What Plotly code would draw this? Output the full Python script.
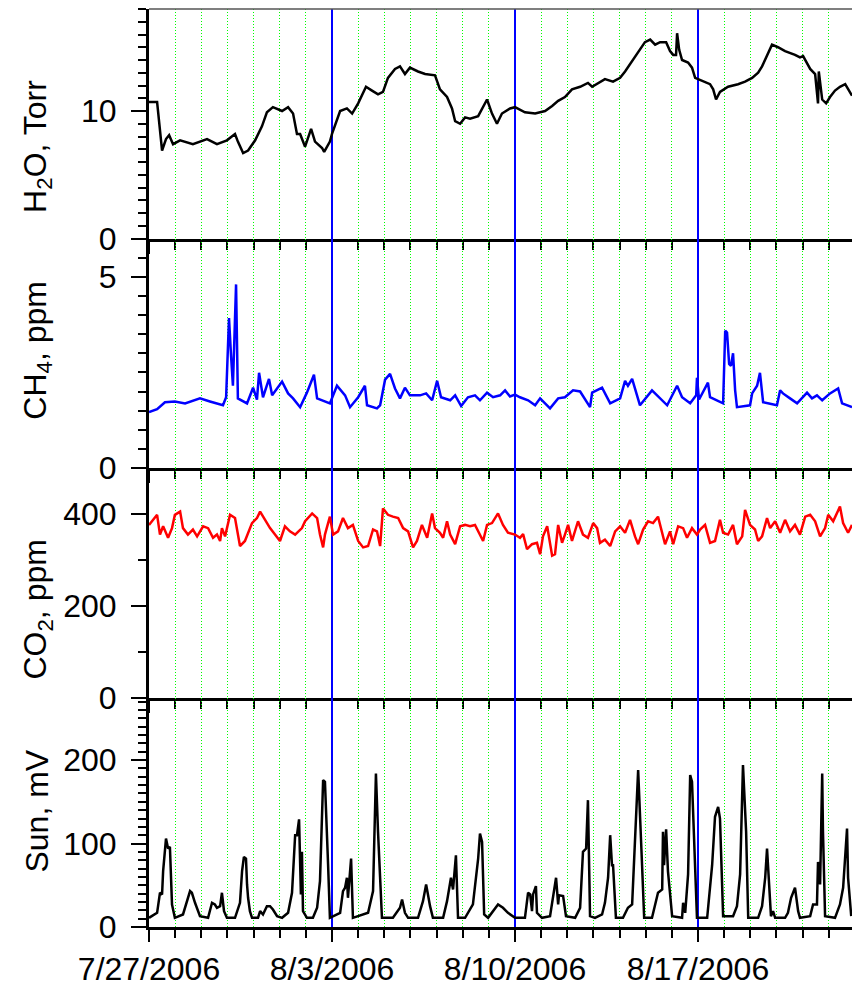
import pandas as pd
import plotly.graph_objects as go
from plotly.subplots import make_subplots

START = pd.Timestamp("2006-07-27")

# ---- data (time in days since 7/27/2006 00:00) ----
h2o_days = [0, 0.31, 0.50, 0.65, 0.77, 0.92, 1.19, 1.68, 2.22, 2.60,
            2.98, 3.29, 3.40, 3.60, 3.79, 4.06, 4.32, 4.51, 4.74, 5.09,
            5.32, 5.51, 5.66, 5.78, 5.97, 6.20, 6.35, 6.62, 6.70, 6.92,
            7.00, 7.31, 7.57, 7.77, 8.00, 8.15, 8.30, 8.53, 8.76, 8.95,
            9.14, 9.41, 9.60, 9.79, 9.98, 10.29, 10.56, 10.94, 11.13, 11.40,
            11.59, 11.71, 11.90, 12.09, 12.28, 12.59, 12.78, 12.93, 13.12, 13.31,
            13.50, 13.81, 14.00, 14.38, 14.77, 15.15, 15.42, 15.65, 15.91, 16.18,
            16.49, 16.79, 16.95, 17.25, 17.44, 17.75, 18.02, 18.21, 18.40, 18.78,
            18.97, 19.17, 19.36, 19.55, 19.78, 19.93, 20.05, 20.16, 20.20, 20.28,
            20.39, 20.62, 20.77, 20.89, 21.00, 21.27, 21.46, 21.58, 21.69, 21.84,
            22.15, 22.53, 22.80, 23.07, 23.30, 23.45, 23.64, 23.83, 24.06, 24.33,
            24.71, 24.90, 25.02, 25.29, 25.48, 25.59, 25.62, 25.75, 25.90, 26.05,
            26.24, 26.43, 26.63, 26.74, 26.89]
h2o_vals = [10.7, 10.7, 6.9, 7.8, 8.1, 7.4, 7.7, 7.4, 7.8, 7.4,
            7.7, 8.2, 7.6, 6.7, 6.9, 7.7, 8.8, 9.9, 10.3, 10.0,
            10.3, 9.8, 8.2, 8.2, 7.2, 8.6, 7.6, 7.1, 6.8, 7.6,
            8.2, 10.0, 10.2, 9.8, 10.6, 11.3, 11.9, 11.6, 11.3, 11.5,
            12.6, 13.3, 13.5, 12.9, 13.4, 13.1, 12.9, 12.8, 11.7, 11.1,
            10.2, 9.2, 9.0, 9.5, 9.4, 9.6, 10.3, 10.9, 9.8, 9.0,
            9.8, 10.2, 10.3, 9.9, 9.8, 10.0, 10.4, 10.8, 11.1, 11.7,
            11.9, 12.2, 11.9, 12.3, 12.5, 12.3, 12.6, 13.1, 13.7, 14.8,
            15.4, 15.6, 15.2, 15.4, 15.4, 14.7, 14.4, 14.4, 16.1, 14.8,
            14.0, 13.8, 13.4, 12.6, 12.5, 12.3, 12.1, 11.7, 10.9, 11.5,
            11.9, 12.1, 12.3, 12.6, 13.0, 13.5, 14.4, 15.2, 15.0, 14.7,
            14.4, 14.2, 14.3, 13.3, 12.9, 10.6, 13.1, 10.9, 10.6, 11.1,
            11.6, 11.9, 12.1, 11.7, 11.2]

ch4_days = [0, 0.31, 0.61, 0.99, 1.38, 1.95, 2.33, 2.83, 2.95, 3.06,
            3.14, 3.21, 3.33, 3.40, 3.75, 3.98, 4.13, 4.21, 4.36, 4.59,
            4.71, 4.86, 5.09, 5.32, 5.51, 5.78, 6.04, 6.31, 6.43, 6.92,
            7.19, 7.50, 7.69, 8.00, 8.26, 8.34, 8.72, 8.84, 9.03, 9.22,
            9.41, 9.60, 9.79, 9.98, 10.37, 10.60, 10.83, 11.02, 11.17, 11.52,
            11.71, 11.94, 12.20, 12.47, 12.66, 12.93, 13.16, 13.43, 13.62, 13.81,
            14.00, 14.19, 14.50, 14.77, 14.96, 15.34, 15.65, 15.91, 16.22, 16.49,
            16.87, 16.95, 17.33, 17.64, 18.02, 18.21, 18.32, 18.48, 18.78, 19.24,
            19.82, 20.20, 20.39, 20.70, 20.93, 20.96, 21.04, 21.38, 21.46, 21.96,
            22.04, 22.11, 22.19, 22.26, 22.34, 22.42, 22.49, 22.99, 23.07, 23.26,
            23.37, 23.49, 24.02, 24.14, 24.25, 24.52, 24.79, 25.17, 25.36, 25.55,
            25.75, 26.05, 26.36, 26.51, 26.89]
ch4_vals = [1.46, 1.54, 1.72, 1.74, 1.69, 1.82, 1.74, 1.64, 1.85, 3.92,
            2.92, 2.15, 4.80, 1.82, 1.69, 2.10, 1.79, 2.49, 1.85, 2.33,
            1.90, 2.03, 2.26, 1.95, 1.82, 1.59, 1.97, 2.44, 1.82, 1.69,
            2.15, 1.90, 1.59, 1.85, 2.15, 1.64, 1.56, 1.64, 2.31, 2.46,
            2.08, 1.82, 2.10, 1.90, 1.90, 1.95, 1.77, 2.28, 1.85, 1.77,
            1.90, 1.62, 1.85, 1.90, 1.77, 1.97, 1.85, 1.90, 2.03, 1.87,
            1.92, 1.85, 1.77, 1.64, 1.82, 1.56, 1.82, 1.85, 2.03, 2.00,
            1.59, 1.97, 2.10, 1.69, 1.82, 2.28, 2.15, 2.33, 1.64, 2.03,
            1.64, 2.15, 1.85, 1.69, 1.90, 2.36, 1.79, 2.23, 1.85, 1.69,
            3.59, 3.54, 2.72, 2.67, 3.00, 2.03, 1.59, 1.64, 1.95, 2.15,
            2.49, 1.72, 1.64, 2.03, 1.95, 1.82, 1.69, 1.97, 1.82, 1.90,
            1.77, 1.95, 2.08, 1.69, 1.59]

co2_days = [0, 0.31, 0.42, 0.54, 0.73, 0.88, 0.99, 1.19, 1.30, 1.49,
            1.68, 1.84, 2.07, 2.26, 2.45, 2.60, 2.72, 2.79, 2.91, 3.10,
            3.29, 3.48, 3.67, 3.94, 4.13, 4.25, 4.44, 4.63, 4.82, 5.01,
            5.20, 5.39, 5.59, 5.85, 5.97, 6.24, 6.43, 6.54, 6.66, 6.73,
            6.92, 7.04, 7.23, 7.42, 7.61, 7.80, 8.00, 8.19, 8.38, 8.57,
            8.72, 8.84, 8.95, 9.14, 9.33, 9.53, 9.72, 9.91, 10.10, 10.25,
            10.44, 10.64, 10.83, 10.94, 11.13, 11.25, 11.40, 11.52, 11.71, 11.90,
            12.09, 12.28, 12.47, 12.66, 12.78, 12.93, 13.12, 13.35, 13.54, 13.73,
            14.00, 14.19, 14.31, 14.46, 14.65, 14.84, 14.96, 15.07, 15.23, 15.42,
            15.53, 15.65, 15.80, 15.91, 16.03, 16.18, 16.41, 16.60, 16.79, 16.99,
            17.14, 17.25, 17.44, 17.64, 17.83, 18.02, 18.21, 18.40, 18.59, 18.71,
            18.90, 19.09, 19.28, 19.47, 19.63, 19.74, 19.93, 20.05, 20.24, 20.43,
            20.58, 20.77, 20.96, 21.08, 21.27, 21.46, 21.65, 21.84, 21.96, 22.15,
            22.34, 22.49, 22.69, 22.80, 22.99, 23.18, 23.30, 23.45, 23.64, 23.76,
            23.95, 24.14, 24.33, 24.52, 24.71, 24.90, 25.10, 25.29, 25.48, 25.67,
            25.86, 25.98, 26.17, 26.43, 26.55, 26.74, 26.89]
co2_vals = [376, 398, 355, 373, 348, 369, 398, 405, 369, 355,
            366, 351, 373, 369, 348, 355, 341, 369, 351, 398,
            391, 330, 341, 380, 391, 405, 387, 369, 355, 341,
            373, 362, 355, 369, 384, 401, 391, 355, 327, 355,
            394, 355, 362, 391, 369, 376, 341, 327, 330, 366,
            362, 330, 412, 398, 394, 391, 369, 362, 327, 341,
            376, 348, 401, 369, 359, 348, 384, 355, 334, 373,
            376, 373, 376, 355, 341, 376, 380, 401, 376, 359,
            355, 348, 356, 323, 334, 337, 312, 351, 373, 309,
            312, 376, 337, 355, 376, 341, 384, 355, 348, 380,
            369, 337, 344, 330, 362, 373, 359, 387, 351, 334,
            366, 384, 380, 394, 355, 334, 362, 334, 373, 369,
            348, 369, 355, 366, 376, 337, 341, 387, 359, 355,
            376, 334, 351, 409, 376, 366, 341, 351, 391, 369,
            384, 359, 387, 362, 376, 355, 394, 398, 384, 351,
            369, 398, 384, 416, 380, 359, 376]

sun_days = [0, 0.31, 0.42, 0.50, 0.54, 0.65, 0.73, 0.80, 0.88, 0.99,
            1.30, 1.45, 1.57, 1.64, 1.76, 1.95, 2.26, 2.41, 2.52, 2.60,
            2.72, 2.79, 2.87, 2.98, 3.29, 3.48, 3.56, 3.63, 3.71, 3.75,
            3.79, 3.86, 3.94, 4.17, 4.25, 4.36, 4.51, 4.63, 4.74, 4.90,
            5.09, 5.32, 5.47, 5.59, 5.66, 5.74, 5.81, 5.85, 5.89, 6.04,
            6.27, 6.43, 6.54, 6.66, 6.73, 6.85, 6.92, 7.31, 7.42, 7.50,
            7.57, 7.61, 7.73, 7.80, 8.38, 8.57, 8.68, 8.76, 8.91, 9.33,
            9.60, 9.68, 9.79, 9.91, 10.29, 10.48, 10.60, 10.67, 10.75, 10.86,
            11.25, 11.40, 11.55, 11.63, 11.74, 11.82, 12.09, 12.39, 12.59, 12.66,
            12.74, 12.82, 12.97, 13.35, 13.47, 13.54, 13.73, 14.00, 14.38, 14.50,
            14.58, 14.65, 14.69, 14.80, 14.84, 15.03, 15.34, 15.46, 15.57, 15.65,
            15.68, 15.84, 15.95, 16.30, 16.49, 16.60, 16.72, 16.79, 16.87, 17.06,
            17.33, 17.44, 17.56, 17.64, 17.71, 17.75, 17.86, 18.13, 18.32, 18.48,
            18.71, 18.86, 18.94, 19.24, 19.47, 19.63, 19.66, 19.70, 19.78, 19.85,
            20.01, 20.39, 20.43, 20.51, 20.62, 20.70, 20.77, 20.96, 21.35, 21.54,
            21.65, 21.77, 21.84, 21.96, 22.34, 22.49, 22.61, 22.72, 22.84, 22.92,
            23.30, 23.45, 23.57, 23.64, 23.68, 23.79, 23.87, 23.95, 24.33, 24.44,
            24.56, 24.71, 24.83, 24.90, 25.29, 25.40, 25.55, 25.59, 25.67, 25.75,
            25.78, 25.86, 26.24, 26.43, 26.55, 26.63, 26.70, 26.74, 26.86]
sun_vals = [11, 17, 41, 39, 67, 106, 94, 96, 27, 11,
            15, 29, 43, 41, 29, 13, 11, 29, 27, 23,
            25, 41, 19, 11, 11, 29, 67, 84, 82, 51,
            35, 19, 11, 11, 19, 15, 25, 25, 21, 13,
            11, 17, 41, 110, 110, 129, 39, 90, 19, 11,
            11, 23, 55, 176, 174, 75, 11, 17, 43, 47,
            59, 35, 82, 11, 17, 43, 184, 114, 11, 11,
            23, 33, 17, 11, 11, 31, 51, 39, 25, 11,
            11, 31, 59, 45, 86, 11, 11, 27, 82, 112,
            102, 15, 11, 27, 25, 23, 17, 11, 11, 41,
            39, 19, 39, 49, 17, 11, 13, 35, 59, 27,
            38, 37, 13, 11, 23, 90, 94, 152, 13, 11,
            15, 29, 59, 110, 74, 74, 11, 11, 23, 27,
            188, 74, 11, 11, 41, 45, 114, 74, 117, 67,
            13, 11, 29, 17, 63, 182, 174, 11, 11, 74,
            132, 144, 130, 13, 13, 25, 63, 194, 114, 11,
            11, 25, 59, 94, 74, 13, 19, 11, 11, 17,
            35, 47, 19, 11, 13, 27, 27, 78, 51, 184,
            114, 13, 11, 27, 47, 82, 118, 59, 13]

x_end_days = 26.89
week_labels = ["7/27/2006", "8/3/2006", "8/10/2006", "8/17/2006"]


def to_time(days):
    return [START + pd.Timedelta(days=d) for d in days]


FONT = "Arial, Liberation Sans, sans-serif"

fig = make_subplots(rows=4, cols=1, shared_xaxes=True, vertical_spacing=0)

series = [
    (h2o_days, h2o_vals, "black"),
    (ch4_days, ch4_vals, "#0000ff"),
    (co2_days, co2_vals, "#ff0000"),
    (sun_days, sun_vals, "black"),
]
for i, (d, v, c) in enumerate(series, start=1):
    fig.add_trace(go.Scatter(x=to_time(d), y=v, mode="lines",
                             line=dict(color=c, width=2.5), showlegend=False),
                  row=i, col=1)

domains = [[0.75, 1.0], [0.5, 0.75], [0.25, 0.5], [0.0, 0.25]]
yranges = [[0, 18], [0, 6], [0, 500], [0, 275]]
ydt = [10, 5, 200, 100]
ymin = [1, 0.5, 100, 10]

tickvals = [START + pd.Timedelta(days=7 * k) for k in range(len(week_labels))]

for i in range(4):
    fig.update_yaxes(
        row=i + 1, col=1, domain=domains[i], range=yranges[i],
        dtick=ydt[i], tick0=0, showline=True, linecolor="black", linewidth=3,
        ticks="outside", ticklen=15, tickwidth=2, tickcolor="black",
        ticklabelstandoff=8,
        showgrid=False, zeroline=False,
        tickfont=dict(family=FONT, size=32, color="black"),
        minor=dict(dtick=ymin[i], tick0=0, ticks="outside", ticklen=8,
                   tickwidth=2, tickcolor="black", showgrid=False),
    )
    fig.update_xaxes(
        row=i + 1, col=1,
        range=[START, START + pd.Timedelta(days=x_end_days)],
        tickmode="array", tickvals=tickvals, ticktext=week_labels,
        showline=True, linecolor="black", linewidth=3,
        ticks="outside", ticklen=12, tickwidth=2, tickcolor="black",
        showgrid=True, gridcolor="#0000ff", gridwidth=2, zeroline=False,
        tickfont=dict(family=FONT, size=32, color="black"),
        minor=dict(dtick=86400000, tick0=START, ticks="outside", ticklen=8,
                   tickwidth=2, tickcolor="black", showgrid=True,
                   gridcolor="#00ff00", griddash="1px,2px", gridwidth=1),
    )

titles = ["H<sub>2</sub>O, Torr", "CH<sub>4</sub>, ppm",
          "CO<sub>2</sub>, ppm", "Sun, mV"]
title_y = [0.850, 0.628, 0.346, 0.126]
for t, yy in zip(titles, title_y):
    fig.add_annotation(text=t, xref="paper", yref="paper", x=-0.159, y=yy,
                       xanchor="center", yanchor="middle", textangle=-90,
                       showarrow=False,
                       font=dict(family=FONT, size=32, color="black"))

fig.add_shape(type="line", xref="paper", yref="paper", x0=0, x1=1, y0=1, y1=1,
              line=dict(color="#555555", width=1.5))

fig.update_layout(
    width=852, height=987,
    margin=dict(l=149, r=0, t=9, b=50),
    paper_bgcolor="white", plot_bgcolor="white",
    font=dict(family=FONT, color="black"),
)

fig.write_html("out.html")
